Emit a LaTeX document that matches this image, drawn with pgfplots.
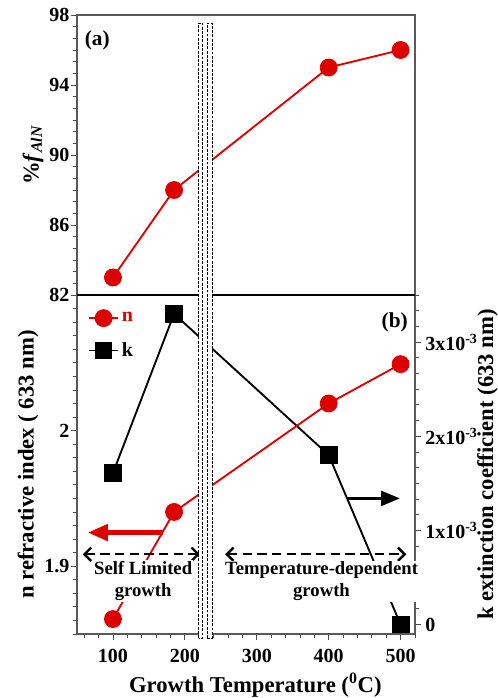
\documentclass[border=0pt]{standalone}
\usepackage{fontspec}
\setmainfont{Liberation Serif}
\usepackage{pgfplots}
\pgfplotsset{compat=1.18}
\usetikzlibrary{arrows.meta}
\definecolor{dred}{HTML}{DD0000}

\pgfplotsset{
  common/.style={
    scale only axis, width=253.5pt, xmin=50, xmax=520,
    tick align=outside, major tick length=4.5pt, minor tick length=2.7pt,
    tick style={black!70, line width=0.6pt},
    axis line style={black!65, line width=0.8pt},
    /pgf/number format/assume math mode=true,
    tick label style={font=\fontsize{15}{17}\selectfont\bfseries, inner sep=1pt},
    label style={font=\fontsize{17}{20}\selectfont\bfseries},
  },
}

\begin{document}
\begin{tikzpicture}
% k extinction coefficient (right axis, values in units of 1e-3)
\begin{axis}[common, name=kax, at={(0,0)}, anchor=south west, height=254.25pt,
  axis x line=none, axis y line*=right, xtick=\empty,
  ymin=-0.1, ymax=3.5, ytick={0,1,2,3},
  yticklabels={\textbf{0},\textbf{1x10\textsuperscript{-3}},\textbf{2x10\textsuperscript{-3}},\textbf{3x10\textsuperscript{-3}}},
  yticklabel style={xshift=2pt},
  minor ytick={0.16667,0.33333,...,3.5},
  ylabel={k extinction coefficient (633 nm)},
  ylabel style={at={(axis description cs:1.215,0.5)}, anchor=center, rotate=0}]
  \addplot[black, line width=1.4pt, mark=square*, mark size=6pt]
    coordinates {(100,1.61) (185,3.3) (400,1.8) (500,0)};
\end{axis}

% n refractive index (left axis)
\begin{axis}[common, name=nax, at={(0,0)}, anchor=south west, height=254.25pt,
  axis x line*=bottom, axis y line*=left, clip=false,
  ymin=1.85, ymax=2.1, ytick={1.9,2}, yticklabels={\textbf{1.9},\textbf{2}},
  minor ytick={1.85,1.86,...,2.1},
  xtick={100,200,...,500}, minor xtick={60,80,...,520},
  xticklabel={\textbf{\pgfmathprintnumber{\tick}}},
  xticklabel style={yshift=-6pt},
  xlabel={Growth Temperature (\textsuperscript{0}C)},
  xlabel style={xshift=7pt, yshift=-3pt},
  ylabel={n refractive index ( 633 nm)},
  legend style={draw=none, fill=none, at={(0.02,0.965)}, anchor=north west,
    font=\fontsize{15}{17}\selectfont\bfseries, row sep=10pt},
  legend cell align=left,
  legend image code/.code={\draw[mark repeat=2,mark phase=2,#1]
    plot coordinates {(0pt,0pt) (11pt,0pt) (22pt,0pt)};}]
  \addplot[dred, line width=1.4pt, mark=*, mark size=6pt]
    coordinates {(100,1.861) (185,1.94) (400,2.02) (500,2.049)};
  \addlegendentry{\textcolor{dred}{n}}
  \addlegendimage{black, line width=1.4pt, mark=square*, mark size=5.5pt}
  \addlegendentry{k}

  % annotations
  \draw[dred, line width=3.5pt, -{Triangle[length=15pt, width=12pt]}]
    (axis cs:169,1.9248) -- (axis cs:65,1.9248);
  \draw[black, line width=2.2pt, -{Triangle[length=14pt, width=11pt]}]
    (axis cs:425,1.95) -- (axis cs:499,1.95);
  \draw[black, line width=1.8pt, dash pattern=on 7pt off 4pt,
    {Straight Barb[length=5pt, width=10pt]}-{Straight Barb[length=5pt, width=10pt]}]
    (axis cs:58,1.9088) -- (axis cs:221,1.9088);
  \draw[black, line width=1.8pt, dash pattern=on 7pt off 4pt,
    {Straight Barb[length=5pt, width=10pt]}-{Straight Barb[length=5pt, width=10pt]}]
    (axis cs:256,1.9088) -- (axis cs:508,1.9088);
  \node[fill=white, inner sep=1pt, align=center,
    font=\fontsize{14}{16}\selectfont\bfseries] at (axis cs:142,1.889)
    {Self Limited\\growth};
  \node[fill=white, inner sep=1pt, align=center,
    font=\fontsize{14}{16}\selectfont\bfseries] at (axis cs:390,1.889)
    {Temperature-dependent\\growth};
  \node[font=\fontsize{16}{18}\selectfont\bfseries] at (rel axis cs:0.94,0.92) {(b)};
  \coordinate (B1) at (axis cs:219,1.847);
\end{axis}

% AlN fraction (top panel)
\begin{axis}[common, name=top, at={(0,254.25pt)}, anchor=south west, height=210pt,
  ymin=82, ymax=98, ytick={82,86,90,94,98}, minor y tick num=5,
  yticklabel={\textbf{\pgfmathprintnumber{\tick}}},
  xtick=\empty, ytick pos=left,
  ylabel={\%\textit{f}\textsubscript{\textit{AlN}}}]
  \addplot[dred, line width=1.4pt, mark=*, mark size=6pt]
    coordinates {(100,83) (185,88) (400,95) (500,96)};
  \node[font=\fontsize{16}{18}\selectfont\bfseries] at (rel axis cs:0.06,0.91) {(a)};
  \coordinate (T1) at (axis cs:219,97.54);
  \coordinate (T2) at (axis cs:225,97.54);
  \coordinate (T3) at (axis cs:231,97.54);
  \coordinate (T4) at (axis cs:238,97.54);
\end{axis}

% shared separating line
\draw[black, line width=1pt] (top.south west) -- (top.south east);

% axis-break boxes
\fill[white] (B1) rectangle (T4);
\draw[black, line width=0.8pt, dash pattern=on 2.2pt off 1pt] (B1) rectangle (T2);
\draw[black, line width=0.8pt, dash pattern=on 2.2pt off 1pt] (B1 -| T3) rectangle (T4);

\pgfresetboundingbox
\path[use as bounding box] (-57.75pt,-48pt) rectangle (315pt,475.5pt);
\end{tikzpicture}
\end{document}
